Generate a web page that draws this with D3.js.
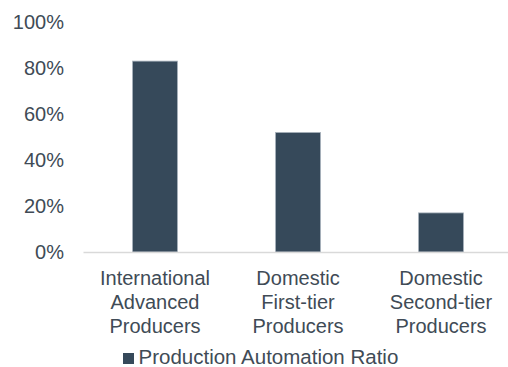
<!DOCTYPE html>
<html>
<head>
<meta charset="utf-8">
<script src="https://cdn.jsdelivr.net/npm/d3@7"></script>
<style>
  html, body { margin: 0; padding: 0; background: #fff; }
  svg { display: block; font-family: "Liberation Sans", Arial, sans-serif; }
</style>
</head>
<body>
<svg id="chart" width="508" height="367"></svg>
<script>
const categories = [
  ["International", "Advanced", "Producers"],
  ["Domestic", "First-tier", "Producers"],
  ["Domestic", "Second-tier", "Producers"]
];
const values = [0.83, 0.52, 0.17];
const yTicks = [0, 0.2, 0.4, 0.6, 0.8, 1.0];
const seriesName = "Production Automation Ratio";

const svg = d3.select("#chart");
const textColor = "#404b56";
const barColor = "#36495a";

const x = d3.scaleBand()
  .domain(d3.range(categories.length))
  .range([83.5, 512.5])
  .paddingInner(0.685)
  .paddingOuter(0.3425);

const y = d3.scaleLinear().domain([0, 1]).range([252, 22]);

// Y axis labels
const yAxis = d3.axisLeft(y)
  .tickValues(yTicks)
  .tickFormat(d3.format(".0%"))
  .tickSize(0)
  .tickPadding(0);
const yg = svg.append("g").attr("transform", "translate(64,0)").call(yAxis);
yg.select(".domain").remove();
yg.selectAll("text")
  .attr("fill", textColor)
  .style("font-size", "20px")
  .style("font-family", "'Liberation Sans', Arial, sans-serif");

// Bars
svg.append("g").selectAll("rect")
  .data(values)
  .join("rect")
  .attr("x", (d, i) => x(i))
  .attr("width", x.bandwidth())
  .attr("y", d => y(d))
  .attr("height", d => y(0) - y(d))
  .attr("fill", barColor)
  .attr("stroke", "#aab4bd")
  .attr("stroke-width", 0.8);

// X axis line
svg.append("line")
  .attr("x1", 83.5).attr("x2", 508)
  .attr("y1", y(0) + 0.5).attr("y2", y(0) + 0.5)
  .attr("stroke", "#d9d9d9")
  .attr("stroke-width", 1.5);

// Category labels
const lab = svg.append("g").selectAll("text")
  .data(categories)
  .join("text")
  .attr("text-anchor", "middle")
  .attr("fill", textColor)
  .style("font-size", "20px")
  .attr("transform", (d, i) => `translate(${x(i) + x.bandwidth() / 2},285)`);
lab.selectAll("tspan")
  .data(d => d)
  .join("tspan")
  .attr("x", 0)
  .attr("y", (d, j) => j * 24)
  .text(d => d);

// Legend
const leg = svg.append("g").attr("transform", "translate(123,353)");
leg.append("rect").attr("width", 11).attr("height", 11).attr("fill", barColor);
leg.append("text")
  .attr("x", 15.5).attr("y", 11)
  .attr("fill", textColor)
  .style("font-size", "20.5px")
  .text(seriesName);
</script>
</body>
</html>
